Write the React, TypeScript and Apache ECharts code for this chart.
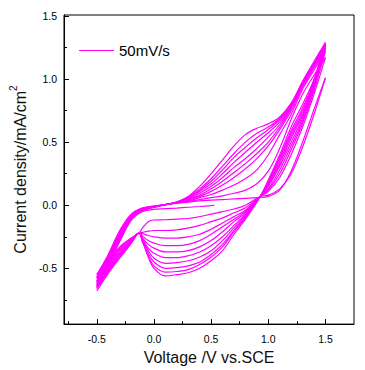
import React, { useEffect, useRef } from "react";
import * as echarts from "echarts";

// Potential grids (V vs. SCE)
const initialV = [0.53, 0.4, 0.3, 0.2, 0.1, 0.0, -0.1, -0.2, -0.3, -0.4, -0.5];
const forwardV = [-0.5, -0.4, -0.3, -0.2, -0.1, 0, 0.1, 0.2, 0.3, 0.4, 0.5, 0.6, 0.7, 0.8, 0.9, 1.0, 1.1, 1.2, 1.3, 1.4, 1.5];
const reverseV = [1.5, 1.4, 1.3, 1.2, 1.1, 1.0, 0.93, 0.8, 0.7, 0.6, 0.5, 0.4, 0.3, 0.2, 0.1, 0.0, -0.05, -0.1, -0.13, -0.2, -0.3, -0.4, -0.5];

// Current density (mA/cm2)
const initialI = [0.0, -0.01, -0.016, -0.022, -0.027, -0.032, -0.05, -0.11, -0.25, -0.42, -0.55];

const forward1 = [-0.55, -0.39, -0.2, -0.07, -0.02, -0.005, 0.005, 0.015, 0.025, 0.035, 0.04, 0.045, 0.05, 0.055, 0.06, 0.07, 0.12, 0.27, 0.5, 0.76, 1.01];
const forward2 = [-0.57, -0.4, -0.21, -0.08, -0.025, -0.008, 0.005, 0.018, 0.03, 0.045, 0.06, 0.075, 0.095, 0.12, 0.17, 0.27, 0.45, 0.68, 0.88, 1.03, 1.17];
const forward3 = [-0.58, -0.41, -0.22, -0.085, -0.03, -0.01, 0.005, 0.02, 0.035, 0.06, 0.085, 0.12, 0.16, 0.21, 0.28, 0.4, 0.56, 0.72, 0.92, 1.07, 1.22];
const forward4 = [-0.6, -0.42, -0.23, -0.09, -0.03, -0.01, 0.005, 0.02, 0.04, 0.07, 0.11, 0.16, 0.22, 0.29, 0.37, 0.47, 0.6, 0.75, 0.94, 1.09, 1.24];
const forward5 = [-0.61, -0.43, -0.24, -0.095, -0.035, -0.012, 0.005, 0.02, 0.045, 0.08, 0.13, 0.19, 0.26, 0.33, 0.41, 0.5, 0.62, 0.77, 0.95, 1.1, 1.25];
const forward6 = [-0.62, -0.44, -0.25, -0.1, -0.035, -0.012, 0.005, 0.022, 0.05, 0.095, 0.15, 0.22, 0.3, 0.37, 0.45, 0.54, 0.64, 0.78, 0.96, 1.11, 1.26];
const forward7 = [-0.63, -0.45, -0.26, -0.105, -0.04, -0.014, 0.005, 0.022, 0.055, 0.11, 0.17, 0.25, 0.34, 0.42, 0.5, 0.575, 0.66, 0.79, 0.97, 1.12, 1.27];
const forward8 = [-0.64, -0.46, -0.27, -0.11, -0.04, -0.015, 0.005, 0.025, 0.06, 0.12, 0.19, 0.28, 0.38, 0.46, 0.535, 0.6, 0.68, 0.79, 0.97, 1.13, 1.28];
const forward9 = [-0.65, -0.47, -0.28, -0.115, -0.045, -0.016, 0.005, 0.025, 0.065, 0.13, 0.21, 0.31, 0.41, 0.5, 0.57, 0.62, 0.69, 0.8, 0.98, 1.13, 1.28];
const forward10 = [-0.66, -0.48, -0.29, -0.12, -0.045, -0.017, 0.005, 0.028, 0.07, 0.15, 0.25, 0.36, 0.47, 0.56, 0.61, 0.645, 0.7, 0.81, 0.98, 1.14, 1.29];

const reverse1 = [1.01, 0.72, 0.46, 0.25, 0.13, 0.08, 0.07, 0.0, -0.03, -0.05, -0.07, -0.09, -0.105, -0.11, -0.115, -0.117, -0.13, -0.18, -0.22, -0.26, -0.33, -0.45, -0.57];
const reverse2 = [1.17, 0.88, 0.62, 0.4, 0.22, 0.11, 0.07, -0.02, -0.06, -0.1, -0.13, -0.16, -0.18, -0.195, -0.2, -0.2, -0.205, -0.215, -0.22, -0.265, -0.34, -0.46, -0.58];
const reverse3 = [1.22, 0.91, 0.65, 0.44, 0.25, 0.12, 0.07, -0.04, -0.09, -0.14, -0.19, -0.23, -0.25, -0.26, -0.26, -0.25, -0.24, -0.225, -0.22, -0.27, -0.35, -0.47, -0.6];
const reverse4 = [1.24, 0.93, 0.67, 0.47, 0.28, 0.13, 0.07, -0.05, -0.11, -0.17, -0.23, -0.28, -0.31, -0.32, -0.32, -0.3, -0.28, -0.245, -0.22, -0.275, -0.36, -0.48, -0.61];
const reverse5 = [1.25, 0.95, 0.69, 0.5, 0.31, 0.15, 0.07, -0.06, -0.13, -0.21, -0.28, -0.33, -0.36, -0.37, -0.37, -0.34, -0.31, -0.26, -0.22, -0.28, -0.37, -0.49, -0.62];
const reverse6 = [1.26, 0.96, 0.71, 0.53, 0.33, 0.16, 0.07, -0.07, -0.16, -0.25, -0.32, -0.37, -0.4, -0.415, -0.415, -0.38, -0.34, -0.27, -0.22, -0.285, -0.38, -0.5, -0.63];
const reverse7 = [1.27, 0.97, 0.73, 0.55, 0.35, 0.17, 0.07, -0.08, -0.18, -0.28, -0.36, -0.41, -0.44, -0.455, -0.46, -0.42, -0.36, -0.28, -0.22, -0.29, -0.39, -0.51, -0.64];
const reverse8 = [1.28, 0.98, 0.75, 0.57, 0.37, 0.18, 0.07, -0.09, -0.2, -0.31, -0.39, -0.45, -0.48, -0.495, -0.5, -0.45, -0.38, -0.29, -0.22, -0.295, -0.4, -0.52, -0.65];
const reverse9 = [1.28, 0.99, 0.77, 0.59, 0.38, 0.19, 0.07, -0.1, -0.21, -0.33, -0.41, -0.47, -0.51, -0.525, -0.53, -0.48, -0.4, -0.29, -0.22, -0.3, -0.41, -0.53, -0.66];
const reverse10 = [1.29, 1.0, 0.8, 0.62, 0.4, 0.2, 0.07, -0.11, -0.23, -0.36, -0.44, -0.5, -0.535, -0.55, -0.56, -0.5, -0.41, -0.28, -0.22, -0.305, -0.42, -0.54, -0.68];

const forwardSweeps = [forward1, forward2, forward3, forward4, forward5, forward6, forward7, forward8, forward9, forward10];
const reverseSweeps = [reverse1, reverse2, reverse3, reverse4, reverse5, reverse6, reverse7, reverse8, reverse9, reverse10];

const seriesName = "50mV/s";
const xTickValues = [-0.5, 0, 0.5, 1.0, 1.5];
const xMinorTickValues = [-0.75, -0.25, 0.25, 0.75, 1.25];
const yTickValues = [-0.5, 0, 0.5, 1.0, 1.5];
const yMinorTickValues = [-0.75, -0.25, 0.25, 0.75, 1.25];
const xRange = [-0.787, 1.75];
const yRange = [-0.942, 1.508];

const FONT = 'Arial, "Liberation Sans", sans-serif';
const COLOR = "#ff00ff";

export default function App() {
  const ref = useRef<HTMLDivElement>(null);

  useEffect(() => {
    if (!ref.current) return;
    const chart = echarts.init(ref.current, null, { renderer: "svg" });

    const sweeps: { v: number[]; i: number[] }[] = [{ v: initialV, i: initialI }];
    forwardSweeps.forEach((f, k) => {
      sweeps.push({ v: forwardV, i: f });
      sweeps.push({ v: reverseV, i: reverseSweeps[k] });
    });

    const series = sweeps.map((s) => ({
      type: "line",
      name: seriesName,
      data: s.v.map((v, idx) => [v, s.i[idx]]),
      showSymbol: false,
      symbol: "none",
      smooth: 0.35,
      lineStyle: { color: COLOR, width: 1.2 },
      itemStyle: { color: COLOR },
      xAxisIndex: 0,
      yAxisIndex: 0,
    }));

    const fmt = (v: number) => v.toFixed(1);

    chart.setOption({
      animation: false,
      grid: {
        left: 53,
        top: 15,
        width: 301,
        height: 314,
        show: true,
        borderColor: "#000",
        borderWidth: 1,
        containLabel: false,
      },
      legend: {
        data: [seriesName],
        left: 79,
        top: 43,
        padding: 0,
        itemWidth: 35,
        itemHeight: 14,
        textStyle: { fontFamily: FONT, fontSize: 15, color: "#000" },
        icon: "path://M0,6 L35,6 L35,7 L0,7 Z",
        itemStyle: { color: COLOR },
      },
      xAxis: [
        {
          type: "value",
          position: "bottom",
          min: xRange[0],
          max: xRange[1],
          splitLine: { show: false },
          axisLine: { show: true, onZero: false, lineStyle: { color: "#000", width: 1 } },
          axisTick: { show: true, inside: true, length: 5, customValues: xTickValues, lineStyle: { color: "#000" } },
          axisLabel: { customValues: xTickValues, formatter: fmt, fontFamily: FONT, fontSize: 10.5, color: "#000", margin: 9 },
          name: "Voltage /V vs.SCE",
          nameLocation: "middle",
          nameGap: 17,
          nameTextStyle: { fontFamily: FONT, fontSize: 16, color: "#111" },
        },
        {
          type: "value",
          position: "bottom",
          min: xRange[0],
          max: xRange[1],
          splitLine: { show: false },
          axisLine: { show: false, onZero: false },
          axisTick: { show: true, inside: true, length: 3, customValues: xMinorTickValues, lineStyle: { color: "#000" } },
          axisLabel: { show: false },
        },
      ],
      yAxis: [
        {
          type: "value",
          position: "left",
          min: yRange[0],
          max: yRange[1],
          splitLine: { show: false },
          axisLine: { show: true, onZero: false, lineStyle: { color: "#000", width: 1 } },
          axisTick: { show: true, inside: true, length: 5, customValues: yTickValues, lineStyle: { color: "#000" } },
          axisLabel: { customValues: yTickValues, formatter: fmt, fontFamily: FONT, fontSize: 10.5, color: "#000", margin: 7 },
          name: "{t|Current density/mA/cm}{s|2}",
          nameLocation: "middle",
          nameGap: 21,
          nameTextStyle: {
            fontFamily: FONT,
            fontSize: 16,
            color: "#111",
            rich: {
              t: { fontFamily: FONT, fontSize: 16, color: "#111", lineHeight: 20, verticalAlign: "bottom" },
              s: { fontFamily: FONT, fontSize: 10, color: "#111", lineHeight: 20, verticalAlign: "top" },
            },
          },
        },
        {
          type: "value",
          position: "left",
          min: yRange[0],
          max: yRange[1],
          splitLine: { show: false },
          axisLine: { show: false, onZero: false },
          axisTick: { show: true, inside: true, length: 3, customValues: yMinorTickValues, lineStyle: { color: "#000" } },
          axisLabel: { show: false },
        },
      ],
      series,
    });

    return () => chart.dispose();
  }, []);

  return <div ref={ref} style={{ width: 365, height: 370, position: "absolute", left: 0, top: 0 }} />;
}
